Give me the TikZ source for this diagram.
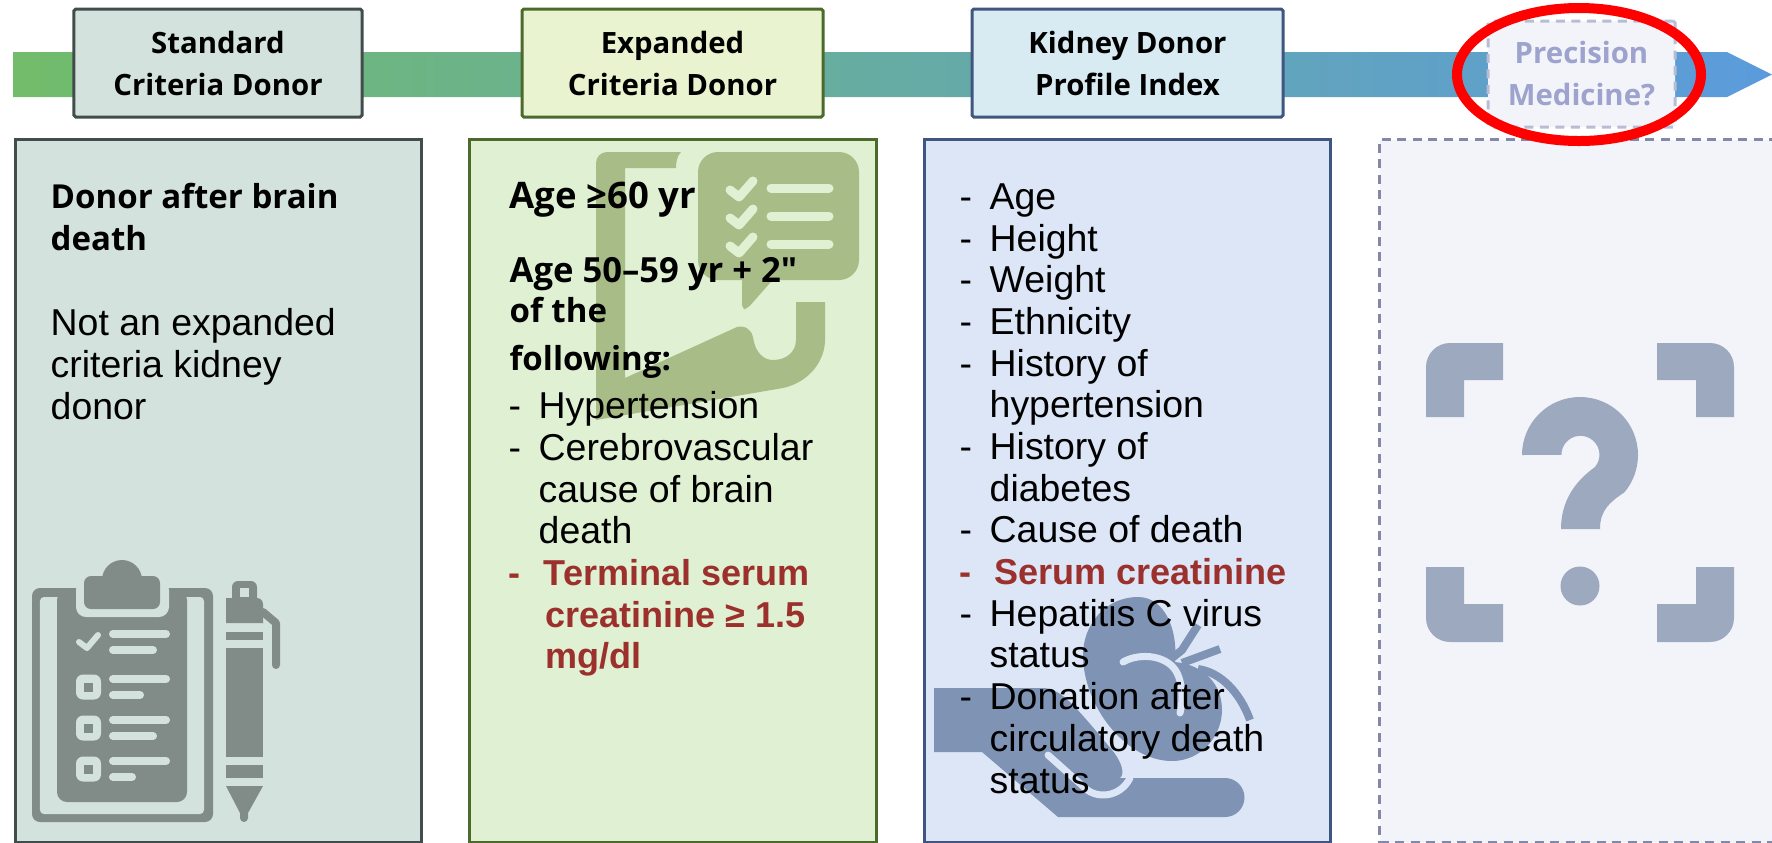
\documentclass[tikz,border=0pt]{standalone}
\usepackage{fontspec}
\usepackage{xcolor}
\usepackage{tikz}
\usetikzlibrary{arrows.meta, positioning, calc}
\setmainfont{Liberation Sans}
\newfontfamily\headfont{Open Sans}
\definecolor{bandgreen}{HTML}{72BC6B}
\definecolor{bandteal}{HTML}{68A98F}
\definecolor{bandblue}{HTML}{5B9BDC}
\definecolor{stdfill}{HTML}{D4E2DD}
\definecolor{stdline}{HTML}{414C4C}
\definecolor{stdicon}{HTML}{818C89}
\definecolor{ecdhead}{HTML}{E9F3D0}
\definecolor{ecdfill}{HTML}{E0F0D2}
\definecolor{ecdline}{HTML}{4C6A2C}
\definecolor{ecdicon}{HTML}{A8BC88}
\definecolor{kdpihead}{HTML}{D8EAF2}
\definecolor{kdpifill}{HTML}{DCE6F6}
\definecolor{kdpiline}{HTML}{3F5680}
\definecolor{kdpiicon}{HTML}{7F93B5}
\definecolor{pmfill}{HTML}{F2F4FA}
\definecolor{pmline}{HTML}{8388A8}
\definecolor{pmhead}{HTML}{B8BCD4}
\definecolor{pmtext}{HTML}{9DA3CC}
\definecolor{pmicon}{HTML}{9CA9BF}
\definecolor{serumred}{HTML}{9B302C}
\newcommand{\ditem}{\makebox[0.30cm][l]{-}}
\newcommand{\dcont}{\hspace*{0.30cm}}
\newcommand{\ritem}{\makebox[0.35cm][l]{-}}
\newcommand{\rcont}{\hspace*{0.37cm}}
\newcommand{\redfont}{\color{serumred}\bfseries\fontsize{10.25}{11.86}\selectfont}

\begin{document}
\begin{tikzpicture}[
    header/.style  ={rectangle, rounded corners=0.5pt, line width=0.03cm, align=center, minimum width=#1, minimum height=1.08cm, inner sep=0pt, font=\headfont\bfseries\fontsize{8.35}{11.95}\selectfont},
    panel/.style   ={rectangle, line width=0.03cm, anchor=north west, minimum width=#1, minimum height=7.03cm, inner sep=0pt},
    boldtext/.style={anchor=base west, align=left, inner sep=0pt, font=\headfont\bfseries\fontsize{9.4}{11.86}\selectfont},
    listtext/.style={anchor=north west, align=left, inner sep=0pt, font=\fontsize{10.65}{11.86}\selectfont},
    iconline/.style={line width=0.08cm, line cap=round, stdfill},
    bubbleline/.style={line width=0.09cm, line cap=round, line join=round, ecdfill},
    organline/.style={line width=0.08cm, kdpiicon}
]
\useasboundingbox (0,0) rectangle (17.72,-8.42);
% --- timeline band ---
\shade[left color=bandgreen, middle color=bandteal, right color=bandblue] (0.13,-0.52) -- (17.27,-0.52) -- (17.72,-0.745) -- (17.27,-0.97) -- (0.13,-0.97) -- cycle;
% --- headers ---
\node[header=2.88cm, draw=stdline, fill=stdfill] (hdrstandard) at (2.18,-0.63) {Standard\\Criteria Donor};
\node[header=3.01cm, draw=ecdline, fill=ecdhead] (hdrexpanded) at (6.725,-0.63) {Expanded\\Criteria Donor};
\node[header=3.11cm, draw=kdpiline, fill=kdpihead] (hdrkdpi) at (11.275,-0.63) {Kidney Donor\\Profile Index};
\node[header=1.87cm, minimum height=1.06cm, draw=pmhead, fill=pmfill, text=pmtext, dash pattern=on 0.09cm off 0.065cm] (hdrprecision) at (15.815,-0.74) {Precision\\Medicine?};
% --- panels ---
\node[panel=4.06cm, draw=stdline, fill=stdfill] (panelstandard) at (0.14,-1.38) {};
\node[panel=4.07cm, draw=ecdline, fill=ecdfill] (panelexpanded) at (4.68,-1.38) {};
\node[panel=4.06cm, draw=kdpiline, fill=kdpifill] (panelkdpi) at (9.23,-1.38) {};
\node[panel=4.60cm, draw=pmline, fill=pmfill, dash pattern=on 0.09cm off 0.065cm] (panelprecision) at (13.78,-1.38) {};
% --- ring round the last header ---
\draw[red, line width=0.10cm] (15.79,-0.745) ellipse (1.22 and 0.665);

% ============ clipboard and pen ============
\fill[stdicon, rounded corners=0.08cm] (0.32,-5.88) rectangle (2.13,-8.22);
\fill[stdfill, rounded corners=0.04cm] (0.40,-5.97) rectangle (2.04,-8.14);
\fill[stdicon, rounded corners=0.10cm] (0.57,-5.90) rectangle (1.87,-8.02);
\fill[stdfill, rounded corners=0.10cm] (0.76,-5.80) rectangle (1.69,-6.17);
\fill[stdicon, rounded corners=0.07cm] (0.84,-5.76) rectangle (1.60,-6.09);
\fill[stdicon] (1.22,-5.80) circle (0.20);
\draw[stdfill, line width=0.06cm, line cap=round, line join=round] (0.79,-6.42) -- (0.87,-6.48) -- (0.98,-6.35);
\foreach \rowy/\rowend in {6.34/1.66, 6.79/1.66, 7.20/1.66, 7.61/1.66}
    \draw[iconline] (1.13,-\rowy) -- (\rowend,-\rowy);
\foreach \rowy/\rowend in {6.50/1.53, 6.95/1.40, 7.36/1.53, 7.77/1.32}
    \draw[iconline] (1.13,-\rowy) -- (\rowend,-\rowy);
\foreach \rowy in {6.87, 7.28, 7.69} {
    \fill[stdfill, rounded corners=0.07cm] (0.76,-\rowy+0.125) rectangle (1.01,-\rowy-0.125);
    \fill[stdicon] (0.84,-\rowy+0.045) rectangle (0.93,-\rowy-0.045);
}
\fill[stdicon, rounded corners=0.06cm] (2.32,-5.81) rectangle (2.57,-6.10);
\fill[stdfill] (2.40,-5.88) rectangle (2.49,-5.97);
\fill[stdicon, rounded corners=0.06cm] (2.26,-5.98) -- (2.63,-5.98) -- (2.63,-6.28) [sharp corners] -- (2.63,-6.23) -- (2.26,-6.23) -- cycle;
\fill[stdicon] (2.26,-6.32) rectangle (2.63,-6.40);
\fill[stdicon] (2.26,-6.48) rectangle (2.63,-7.57);
\fill[stdicon] (2.26,-7.65) rectangle (2.63,-7.78);
\fill[stdicon] (2.26,-7.86) -- (2.63,-7.86) -- (2.48,-8.13) -- (2.48,-8.18) arc (0:-180:0.04) -- (2.40,-8.13) -- cycle;
\draw[stdicon, line width=0.08cm, line cap=round, line join=round] (2.63,-6.12) -- (2.76,-6.23) -- (2.76,-6.65);

% ============ checklist bubble over a page ============
\fill[ecdicon] (5.96,-1.63) arc (180:90:0.11) -- (6.81,-1.52) .. controls (6.77,-1.56) and (6.76,-1.62) .. (6.76,-1.68) -- (6.25,-1.68) -- (6.25,-3.78) -- (7.37,-3.27) .. controls (7.45,-3.25) and (7.52,-3.30) .. (7.53,-3.37) .. controls (7.55,-3.52) and (7.63,-3.60) .. (7.73,-3.60) .. controls (7.86,-3.60) and (7.96,-3.52) .. (7.96,-3.40) -- (7.96,-3.02) -- (8.25,-3.02) -- (8.25,-3.40) .. controls (8.25,-3.60) and (8.10,-3.82) .. (7.83,-3.88) -- (5.96,-4.20) -- cycle;
\fill[ecdicon, rounded corners=0.20cm] (6.98,-1.52) rectangle (8.59,-2.80);
\fill[ecdicon, rounded corners=0.04cm] (7.42,-2.75) -- (7.42,-3.09) -- (7.47,-3.09) -- (7.77,-2.75) -- cycle;
\foreach \rowy in {1.88, 2.16, 2.44} {
    \draw[bubbleline] (7.30,-\rowy-0.02) -- (7.39,-\rowy-0.09) -- (7.53,-\rowy+0.07);
    \draw[bubbleline] (7.71,-\rowy) -- (8.29,-\rowy);
}

% ============ kidney on a hand ============
\fill[kdpiicon] (9.34,-6.88) -- (10.42,-6.88) .. controls (10.60,-6.88) and (10.72,-7.02) .. (11.12,-7.50) .. controls (11.22,-7.62) and (11.25,-7.74) .. (11.20,-7.78) -- (12.25,-7.78) arc (90:-90:0.195) -- (10.58,-8.17) -- (9.82,-7.52) -- (9.34,-7.52) -- cycle;
\draw[kdpifill, line width=0.07cm, line cap=round] (10.48,-7.55) -- (10.85,-7.88) .. controls (10.96,-7.99) and (11.20,-7.98) .. (11.30,-7.78);
\fill[kdpiicon] (11.38,-5.97) .. controls (11.05,-5.97) and (10.83,-6.25) .. (10.83,-6.55) .. controls (10.83,-7.05) and (11.25,-7.61) .. (11.72,-7.61) .. controls (12.02,-7.61) and (12.22,-7.35) .. (12.22,-7.10) .. controls (12.22,-6.85) and (12.05,-6.65) .. (11.75,-6.62) .. controls (11.78,-6.30) and (11.65,-5.97) .. (11.38,-5.97);
\draw[kdpifill, line width=0.07cm, line cap=round] (11.23,-6.62) .. controls (11.40,-6.52) and (11.70,-6.55) .. (11.78,-6.75) .. controls (11.84,-6.90) and (11.82,-7.05) .. (11.80,-7.13);
\draw[organline] (11.98,-6.25) -- (11.82,-6.50) -- (11.72,-6.58);
\draw[organline] (12.20,-6.49) -- (11.82,-6.63);
\draw[organline] (11.98,-6.69) .. controls (12.20,-6.72) and (12.40,-6.92) .. (12.50,-7.20);

% ============ question mark in a frame ============
\fill[pmicon] (14.26,-4.17) -- (14.26,-3.67) arc (180:90:0.24) -- (15.03,-3.43) -- (15.03,-3.80) -- (14.64,-3.80) -- (14.64,-4.17) -- cycle;
\fill[pmicon] (17.34,-4.17) -- (17.34,-3.67) arc (0:90:0.24) -- (16.57,-3.43) -- (16.57,-3.80) -- (16.96,-3.80) -- (16.96,-4.17) -- cycle;
\fill[pmicon] (14.26,-5.67) -- (14.26,-6.18) arc (180:270:0.24) -- (15.03,-6.42) -- (15.03,-6.04) -- (14.64,-6.04) -- (14.64,-5.67) -- cycle;
\fill[pmicon] (17.34,-5.67) -- (17.34,-6.18) arc (0:-90:0.24) -- (16.57,-6.42) -- (16.57,-6.04) -- (16.96,-6.04) -- (16.96,-5.67) -- cycle;
\fill[pmicon] (15.22,-4.55) arc (180:-40:0.58) .. controls (16.10,-5.02) and (16.00,-5.10) .. (16.00,-5.29) -- (15.61,-5.29) .. controls (15.61,-5.02) and (15.74,-4.82) .. (15.95,-4.67) arc (-40:180:0.19) -- cycle;
\fill[pmicon] (15.80,-5.86) circle (0.195);

% ============ panel texts ============
\node[boldtext] (stdbold) at (0.50,-2.50) {Donor after brain\\death};
\node[listtext] (stdplain) at (0.50,-3.08) {Not an expanded\\criteria kidney\\donor};

\node[boldtext, font=\headfont\bfseries\fontsize{10.4}{11.86}\selectfont] (ecdage) at (5.09,-2.08) {Age ≥60 yr};
\node[boldtext, font=\headfont\bfseries\fontsize{9.85}{11.86}\selectfont] (ecdagetwo) at (5.09,-2.82) {Age 50–59 yr + 2"};
\node[boldtext] (ecdofthe) at (5.09,-3.22) {of the};
\node[boldtext] (ecdfollow) at (5.09,-3.70) {following:};
\node[listtext] (ecdlist) at (5.08,-3.91) {\ditem Hypertension\\\ditem Cerebrovascular\\\dcont cause of brain\\\dcont death\\
{\redfont\ritem Terminal serum}\\{\redfont\rcont creatinine ≥ 1.5}\\{\redfont\rcont mg/dl}};

\node[listtext] (kdpilist) at (9.59,-1.83) {\ditem Age\\\ditem Height\\\ditem Weight\\\ditem Ethnicity\\\ditem History of\\\dcont hypertension\\\ditem History of\\\dcont diabetes\\\ditem Cause of death\\
{\redfont\ritem Serum creatinine}\\\ditem Hepatitis C virus\\\dcont status\\\ditem Donation after\\\dcont circulatory death\\\dcont status};
\end{tikzpicture}
\end{document}
